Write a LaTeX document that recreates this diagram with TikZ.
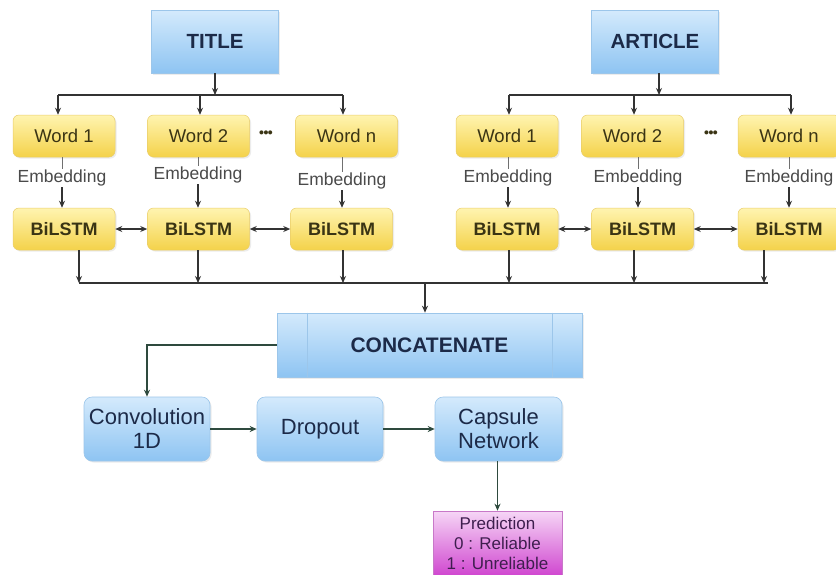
\documentclass[tikz,border=0pt]{standalone}
\usepackage{fontspec}
\setmainfont{Liberation Sans}
\usetikzlibrary{arrows.meta,shadows}
\definecolor{bluetop}{HTML}{D4EAFC}
\definecolor{bluebot}{HTML}{8EC4F2}
\definecolor{blueedge}{HTML}{9CC6EA}
\definecolor{navytxt}{HTML}{1C2A48}
\definecolor{ytop}{HTML}{FFF4B0}
\definecolor{ybot}{HTML}{F4D24A}
\definecolor{yedge}{HTML}{E9CD6A}
\definecolor{wordtxt}{HTML}{3A3414}
\definecolor{embgray}{HTML}{4A4A4A}
\definecolor{mtop}{HTML}{F6D6F6}
\definecolor{mbot}{HTML}{D048D0}
\definecolor{medge}{HTML}{C878C8}
\definecolor{predtxt}{HTML}{3E1E4E}
\definecolor{linegray}{HTML}{333333}
\definecolor{linegreen}{HTML}{2E4A3E}
\begin{document}
\begin{tikzpicture}[x=1pt,y=-1pt,
  hbox/.style={rectangle, top color=bluetop, bottom color=bluebot, draw=blueedge,
    line width=0.6pt, inner sep=0pt, text=navytxt,
    drop shadow={opacity=0.15, shadow xshift=1.5pt, shadow yshift=-1.5pt}},
  headbox/.style={hbox, minimum width=127pt, minimum height=63pt,
    font=\bfseries\fontsize{20.5}{24}\selectfont},
  stagebox/.style={hbox, rounded corners=8pt, minimum width=126pt, minimum height=64pt,
    align=center, font=\fontsize{22}{24}\selectfont},
  wordbox/.style={rectangle, rounded corners=6pt, top color=ytop, bottom color=ybot,
    draw=yedge, line width=0.5pt, minimum width=102pt, minimum height=42pt,
    inner sep=0pt, text=wordtxt, font=\fontsize{18.5}{22}\selectfont,
    drop shadow={opacity=0.15, shadow xshift=1.5pt, shadow yshift=-1.5pt}},
  lstmbox/.style={wordbox, font=\bfseries\fontsize{18}{22}\selectfont},
  emb/.style={inner sep=1pt, text=embgray, font=\fontsize{17.5}{20}\selectfont},
  dots/.style={inner sep=0pt, text=wordtxt, font=\bfseries\fontsize{14}{16}\selectfont},
  ln/.style={line width=1.3pt, draw=linegray},
  arr/.style={ln, -{Stealth[length=7pt,width=6pt]}},
  bid/.style={ln, {Stealth[length=7pt,width=6pt]}-{Stealth[length=7pt,width=6pt]}},
  ln2/.style={line width=1.3pt, draw=linegreen},
  arr2/.style={ln2, -{Stealth[length=7pt,width=6pt]}},
  inner/.style={line width=0.6pt, draw=blueedge}
]
\useasboundingbox (0,0) rectangle (836,574);
\fill[white] (0,0) rectangle (836,574);

% ---------- headers ----------
\node[headbox] (title) at (215,41.5) {TITLE};
\node[headbox] (article) at (655,41.5) {ARTICLE};

% ---------- left group ----------
\node[wordbox] (w1) at (64,136) {Word 1};
\node[wordbox] (w2) at (198.5,136) {Word 2};
\node[wordbox] (wn) at (346.5,136) {Word n};
\node[dots] (dl) at (266,134) {\textbullet\kern-0.5pt\textbullet\kern-0.5pt\textbullet};
\node[lstmbox] (b1) at (64,229) {BiLSTM};
\node[lstmbox] (b2) at (198.5,229) {BiLSTM};
\node[lstmbox] (bn) at (341.5,229) {BiLSTM};
\node[emb] (e1) at (62,178) {Embedding};
\node[emb] (e2) at (198,175) {Embedding};
\node[emb] (en) at (342,181) {Embedding};

% ---------- right group ----------
\node[wordbox] (r1) at (507,136) {Word 1};
\node[wordbox] (r2) at (632.5,136) {Word 2};
\node[wordbox] (rn) at (789,136) {Word n};
\node[dots] (dr) at (711,134) {\textbullet\kern-0.5pt\textbullet\kern-0.5pt\textbullet};
\node[lstmbox] (s1) at (507,229) {BiLSTM};
\node[lstmbox] (s2) at (642.5,229) {BiLSTM};
\node[lstmbox] (sn) at (789,229) {BiLSTM};
\node[emb] (f1) at (508,178) {Embedding};
\node[emb] (f2) at (638,178) {Embedding};
\node[emb] (fn) at (789,178) {Embedding};

% ---------- lower part ----------
\node[hbox, minimum width=305pt, minimum height=64pt,
  font=\bfseries\fontsize{21}{24}\selectfont] (cc) at (429.5,345) {CONCATENATE};
\draw[inner] ([xshift=31pt]cc.north west) -- ([xshift=31pt]cc.south west);
\draw[inner] ([xshift=-30pt]cc.north east) -- ([xshift=-30pt]cc.south east);
\node[stagebox] (conv) at (147,429) {Convolution\\1D};
\node[stagebox] (drop) at (320,429) {Dropout};
\node[stagebox, minimum width=127pt] (cap) at (498.5,429) {Capsule\\Network};
\node[rectangle, top color=mtop, bottom color=mbot, draw=medge, line width=0.6pt,
  minimum width=129pt, minimum height=64pt, inner sep=0pt, align=center,
  text=predtxt, font=\fontsize{17}{20}\selectfont] (pred) at (497.5,543)
  {Prediction\\0 : Reliable\\1 : Unreliable};

% ---------- title fan-out ----------
\coordinate (tj) at (215,95);
\coordinate (ta) at (58,95);
\coordinate (tb) at (200,95);
\coordinate (tc) at (343,95);
\draw[arr] (title.south) -- (tj);
\draw[ln] (ta) -- (tc);
\draw[arr] (ta) -- (ta |- w1.north);
\draw[arr] (tb) -- (tb |- w2.north);
\draw[arr] (tc) -- (tc |- wn.north);

% ---------- article fan-out ----------
\coordinate (aj) at (659,95);
\coordinate (aa) at (509,95);
\coordinate (ab) at (634,95);
\coordinate (ac) at (791,95);
\draw[arr] ([xshift=4pt]article.south) -- (aj);
\draw[ln] (aa) -- (ac);
\draw[arr] (aa) -- (aa |- r1.north);
\draw[arr] (ab) -- (ab |- r2.north);
\draw[arr] (ac) -- (ac |- rn.north);

% ---------- embedding links ----------
\foreach \w/\e/\b in {w1/e1/b1, w2/e2/b2, wn/en/bn, r1/f1/s1, r2/f2/s2, rn/fn/sn}{
  \draw[ln, line width=1pt, draw=linegray!70] (\e.north |- \w.south) -- (\e.north);
  \draw[arr] (\e.south) -- (\e.south |- \b.north);
}

% ---------- BiLSTM links ----------
\draw[bid] (b1.east) -- (b2.west);
\draw[bid] (b2.east) -- (bn.west);
\draw[bid] (s1.east) -- (s2.west);
\draw[bid] (s2.east) -- (sn.west);

% ---------- collector ----------
\coordinate (c1) at (79,283);
\coordinate (c2) at (198,283);
\coordinate (c3) at (343,283);
\coordinate (c4) at (509,283);
\coordinate (c5) at (634,283);
\coordinate (c6) at (764,283);
\coordinate (cend) at (768,283);
\coordinate (cj) at (425,283);
\draw[ln] (c1) -- (cend);
\draw[arr] (c1 |- b1.south) -- (c1);
\draw[arr] (c2 |- b2.south) -- (c2);
\draw[arr] (c3 |- bn.south) -- (c3);
\draw[arr] (c4 |- s1.south) -- (c4);
\draw[arr] (c5 |- s2.south) -- (c5);
\draw[arr] (c6 |- sn.south) -- (c6);
\draw[arr] (cj) -- (cj |- cc.north);

% ---------- lower chain ----------
\draw[arr2] (cc.west) -| (conv.north);
\draw[arr2] (conv.east) -- (drop.west);
\draw[arr2] (drop.east) -- (cap.west);
\draw[arr2] (cap.south -| pred.north) -- (pred.north);
\end{tikzpicture}
\end{document}
